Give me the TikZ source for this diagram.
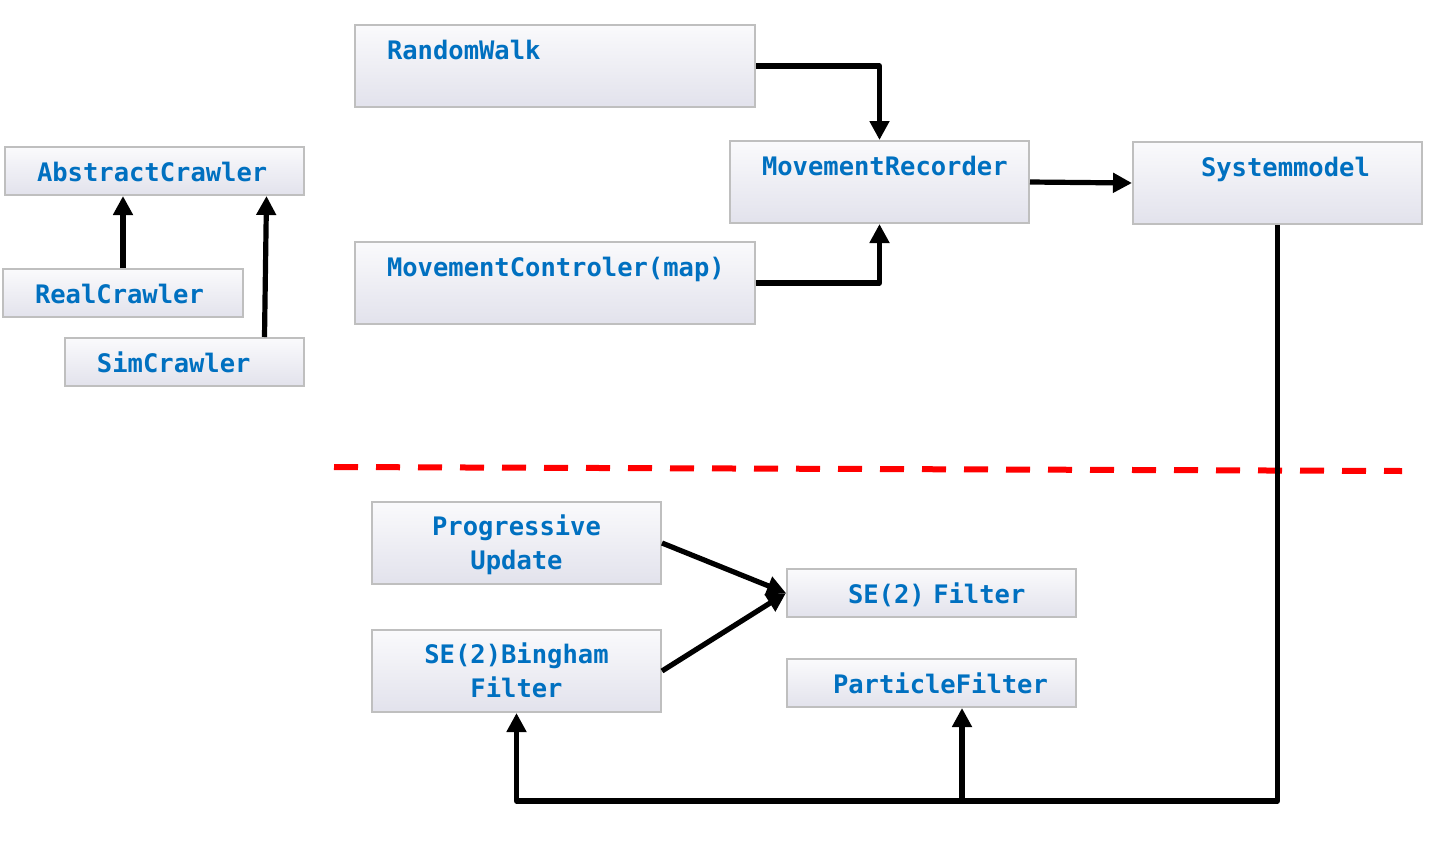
\documentclass[tikz,border=0pt]{standalone}
\usepackage{fontspec}
\setmonofont{DejaVu Sans Mono}
\usetikzlibrary{arrows.meta,calc}
\definecolor{LabelBlue}{RGB}{0,112,192}
\definecolor{BoxLine}{RGB}{191,191,191}
\definecolor{BoxTop}{RGB}{250,250,252}
\definecolor{BoxBottom}{RGB}{226,226,236}
\definecolor{CutRed}{RGB}{255,0,0}
\tikzset{
  box/.style={rectangle,draw=BoxLine,line width=1pt,top color=BoxTop,bottom color=BoxBottom,
    inner ysep=0pt,anchor=north west,align=left,text=LabelBlue,
    font=\ttfamily\bfseries\fontsize{12.75}{17}\selectfont},
  flatbox/.style={box,text height=17pt,text depth=7pt},
  tallbox/.style={box,text height=17pt,text depth=24pt},
  twobox/.style={box,text height=16.5pt,text depth=24.5pt,align=center,inner xsep=8pt,text width=128.5pt},
  link/.style={-{Triangle[length=9.5pt,width=9.5pt]},line width=2.6pt,line join=round},
  divider/.style={CutRed,line width=3pt,dash pattern=on 12pt off 9pt}
}
\begin{document}
\begin{tikzpicture}[x=0.5pt,y=-0.5pt]
\useasboundingbox (0,0) rectangle (1431,847);
% crawler hierarchy
\node[flatbox,inner xsep=16pt,text width=117.5pt] (abstract) at (4,146) {AbstractCrawler};
\node[flatbox,inner xsep=16pt,text width=88pt] (real) at (2,268) {RealCrawler};
\node[flatbox,inner xsep=16pt,text width=87.5pt] (sim) at (64,337) {SimCrawler};
\draw[link] (real.north) -- (real.north |- abstract.south);
\draw[link] ($(sim.north)+(80,0)$) -- ($(abstract.south)+(112,0)$);
% movement and system model
\node[tallbox,inner xsep=16pt,text width=168pt] (walk) at (354,24) {RandomWalk};
\node[tallbox,inner xsep=16pt,text width=168pt] (ctrl) at (354,241) {MovementControler(map)};
\node[tallbox,inner xsep=16pt,text width=117.5pt] (rec) at (729,140) {MovementRecorder};
\node[tallbox,inner xsep=34pt,text width=76.5pt] (sys) at (1132,141) {Systemmodel};
\draw[link] (walk.east) -| (rec.north);
\draw[link] (ctrl.east) -| (rec.south);
\draw[link] (rec.east) -- (sys.west);
% divider
\coordinate (cutL) at (334,467);
\coordinate (cutR) at (1402,471);
\draw[divider] (cutL) -- (cutR);
% filters
\node[twobox] (prog) at (371,501) {Progressive\\Update};
\node[twobox] (bingham) at (371,629) {SE(2)Bingham\\Filter};
\node[flatbox,inner xsep=30.5pt,text width=83.5pt] (se2) at (786,568) {SE(2)~Filter};
\node[flatbox,inner xsep=23pt,text width=98.5pt] (particle) at (786,658) {ParticleFilter};
\draw[link] (prog.east) -- (se2.west);
\draw[link] (bingham.east) -- (se2.west);
\coordinate (bus) at (962,801);
\draw[link] (sys.south) |- (bus) -| (bingham.south);
\draw[link] (bus) -- (bus |- particle.south);
\end{tikzpicture}
\end{document}
